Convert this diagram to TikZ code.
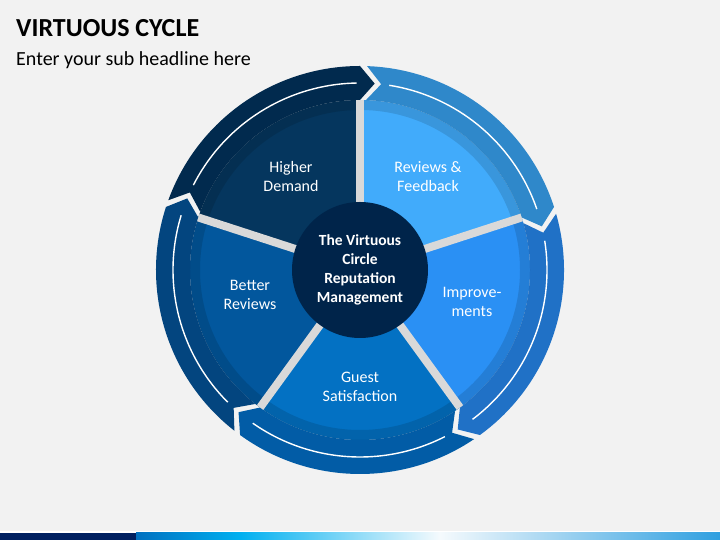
\documentclass[tikz,border=0pt]{standalone}
\usepackage{fontspec}
\setmainfont{Carlito}
\definecolor{paper}{HTML}{F2F2F2}
\definecolor{hubblue}{HTML}{00244A}
\definecolor{segdemand}{HTML}{05365E}
\definecolor{segfeed}{HTML}{41ABFB}
\definecolor{segimprove}{HTML}{2A90F4}
\definecolor{segguest}{HTML}{0371C3}
\definecolor{segbetter}{HTML}{02579D}
\definecolor{arrdemand}{HTML}{012A4E}
\definecolor{arrfeed}{HTML}{2F88CA}
\definecolor{arrimprove}{HTML}{2071C6}
\definecolor{arrguest}{HTML}{025CA6}
\definecolor{arrbetter}{HTML}{03457F}
\definecolor{gapgray}{HTML}{D9D9D9}
\definecolor{barnavy}{HTML}{002060}
\definecolor{barblue}{HTML}{0070C0}
\definecolor{barcyan}{HTML}{00B0F0}
\definecolor{barpale}{HTML}{F5FAFD}
\definecolor{barsky}{HTML}{2E9FE0}
\begin{document}
\begin{tikzpicture}[x=1pt, y=1pt,
		seglabel/.style={text=white, align=center, font=\fontsize{16}{19}\selectfont},
		ringline/.style={white, line width=1.4pt}]
	\fill [paper] (0,0) rectangle (720,540);
	\useasboundingbox (0,0) rectangle (720,540);
	\node [anchor=base west, inner sep=0] (title) at (16,503) {\fontsize{26}{30}\selectfont\bfseries VIRTUOUS CYCLE};
	\node [anchor=base west, inner sep=0] (subtitle) at (16,474) {\fontsize{20}{24}\selectfont Enter your sub headline here};
	\begin{scope}[shift={(360,270)}]
		% segments and the arrows round them
		\foreach \a/\seg/\arr in {90/segdemand/arrdemand, 18/segfeed/arrfeed, -54/segimprove/arrimprove, -126/segguest/arrguest, 162/segbetter/arrbetter} {
			\fill [\seg] (0,0) -- (\a:170) arc [start angle=\a, end angle=\a+72, radius=170] -- cycle;
			\fill [\arr] (\a+70:204) arc [start angle=\a+70, end angle=\a, radius=204] -- (\a-4.5:187) -- (\a:170) arc [start angle=\a, end angle=\a+70, radius=170] -- (\a+65.5:187) -- cycle;
			\draw [ringline] (\a+63:187) arc [start angle=\a+63, end angle=\a+1, radius=187];
		}
		\draw [black, opacity=0.12, line width=10] (0,0) circle (165);
		\foreach \a in {90,18,-54,-126,162}
			\draw [gapgray, line width=8] (0,0) -- (\a:170);
		\node [circle, fill=hubblue, minimum size=136pt, inner sep=0, text=white, align=center, font=\fontsize{15.5}{19}\selectfont\bfseries] (hub) at (0,0) {The Virtuous\\Circle\\Reputation\\Management};
		\node [seglabel] (demand) at (-69,93) {Higher\\Demand};
		\node [seglabel] (feedback) at (68,93) {Reviews \&\\Feedback};
		\node [seglabel] (improve) at (112,-32) {Improve-\\ments};
		\node [seglabel] (guest) at (0,-117) {Guest\\Satisfaction};
		\node [seglabel] (better) at (-110,-25) {Better\\Reviews};
	\end{scope}
	% bottom bar
	\fill [white] (0,7) rectangle (720,8.5);
	\fill [barnavy] (0,0) rectangle (136,7);
	\shade [left color=barblue, right color=barcyan] (136,0) rectangle (240,7);
	\shade [left color=barcyan, right color=barpale] (240,0) rectangle (440,7);
	\shade [left color=barpale, right color=barsky] (440,0) rectangle (720,7);
\end{tikzpicture}
\end{document}
